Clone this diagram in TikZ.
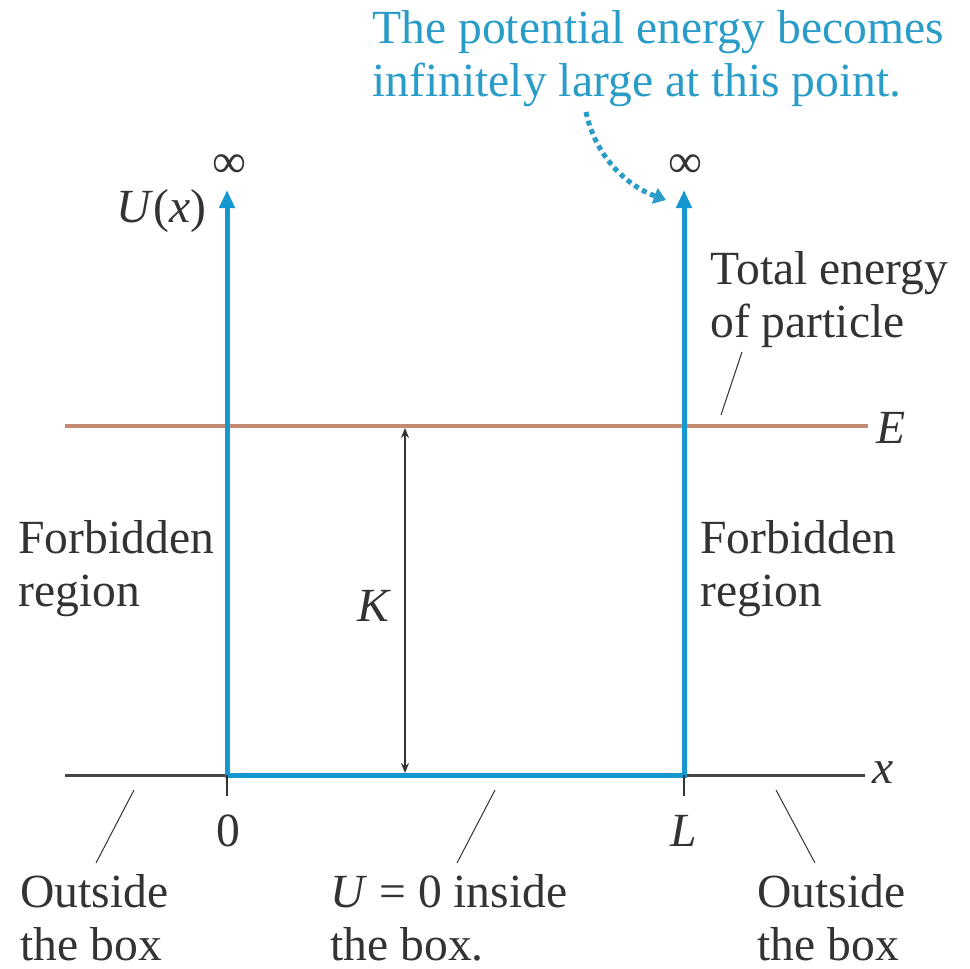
\documentclass[tikz,border=0pt]{standalone}
\usepackage{fontspec}
\setmainfont{Liberation Serif}
\usetikzlibrary{arrows.meta}
\definecolor{wallblue}{HTML}{1597CF}
\definecolor{noteblue}{HTML}{2A9CC8}
\definecolor{ebrown}{HTML}{C48A72}
\definecolor{ink}{HTML}{333333}
\begin{document}
\begin{tikzpicture}[x=0.5pt,y=-0.5pt,
  lbl/.style={inner sep=0pt,text=ink,font=\fontsize{23.8}{26.5}\selectfont,align=left},
  itlbl/.style={lbl,font=\fontsize{23.8}{26.5}\selectfont\itshape},
  wall/.style={draw=wallblue,line width=2.5pt},
  axisline/.style={draw=ink!90,line width=1.5pt},
  leader/.style={draw=ink,line width=0.5pt},
  tick/.style={draw=ink,line width=0.6pt}]
\useasboundingbox (0,0) rectangle (969,969);
% key points
\coordinate (o) at (227,775);
\coordinate (lx) at (684,775);
\coordinate (lt) at (227,190);
\coordinate (rt) at (684,190);
\coordinate (axl) at (65,775);
\coordinate (axr) at (865,775);
\coordinate (el) at (65,426);
\coordinate (er) at (868,426);
\coordinate (kt) at (405,428);
\coordinate (kb) at (405,773);
% axis
\draw[axisline] (axl) -- (axr);
\node[itlbl] (xlab) at (883,773) {x};
% energy line
\draw[draw=ebrown,line width=2pt] (el) -- (er);
\node[itlbl] (elab) at (891,428) {E};
% walls
\draw[wall,line cap=butt] (o) -- (lx);
\draw[wall,-{Triangle[length=9pt,width=7.5pt]}] ([yshift=-1.25pt]o) -- (lt);
\draw[wall,-{Triangle[length=9pt,width=7.5pt]}] ([yshift=-1.25pt]lx) -- (rt);
% infinity
\node[lbl] (infl) at (229,166) {∞};
\node[lbl] (infr) at (685,166) {∞};
\node[lbl,anchor=east] (ulab) at (207,211) {\textit{U}(\textit{x})};
% ticks
\coordinate (t0) at (227,796);
\coordinate (tL) at (684,796);
\draw[tick] (o) -- (t0);
\draw[tick] (lx) -- (tL);
\node[lbl] (zero) at (228,831) {0};
\node[itlbl] (llab) at (684,831) {L};
% K arrow
\draw[draw=ink,line width=0.75pt,{Stealth[length=5pt,width=4pt]}-{Stealth[length=5pt,width=4pt]}] (kt) -- (kb);
\node[itlbl] (klab) at (373,606) {K};
% forbidden regions
\node[lbl,anchor=west] (forbl) at (18,569) {Forbidden\\region};
\node[lbl,anchor=west] (forbr) at (700,569) {Forbidden\\region};
% total energy
\node[lbl,anchor=west] (tot) at (710,300) {Total energy\\of particle};
\coordinate (tota) at (742,352);
\coordinate (totb) at (721,415);
\draw[leader] (tota) -- (totb);
% bottom labels
\node[lbl,anchor=west] (outl) at (20,918) {Outside\\the box};
\node[lbl,anchor=west] (inside) at (330,918) {\textit{U} = 0 inside\\the box.};
\node[lbl,anchor=west] (outr) at (757,918) {Outside\\the box};
\coordinate (la) at (134,790); \coordinate (lb) at (96,863);
\coordinate (ma) at (495,790); \coordinate (mb) at (457,863);
\coordinate (ra) at (776,790); \coordinate (rb) at (815,863);
\draw[leader] (la) -- (lb);
\draw[leader] (ma) -- (mb);
\draw[leader] (ra) -- (rb);
% note
\node[lbl,anchor=west,text=noteblue] (note) at (372,59) {The potential energy becomes\\infinitely large at this point.};
\coordinate (ns) at (586,112);
\coordinate (ne) at (666,200);
\draw[draw=noteblue,line width=2.5pt,dash pattern=on 2.5pt off 2pt,-{Triangle[length=6pt,width=8pt]}] (ns) .. controls (595,155) and (625,185) .. (ne);
\end{tikzpicture}
\end{document}
